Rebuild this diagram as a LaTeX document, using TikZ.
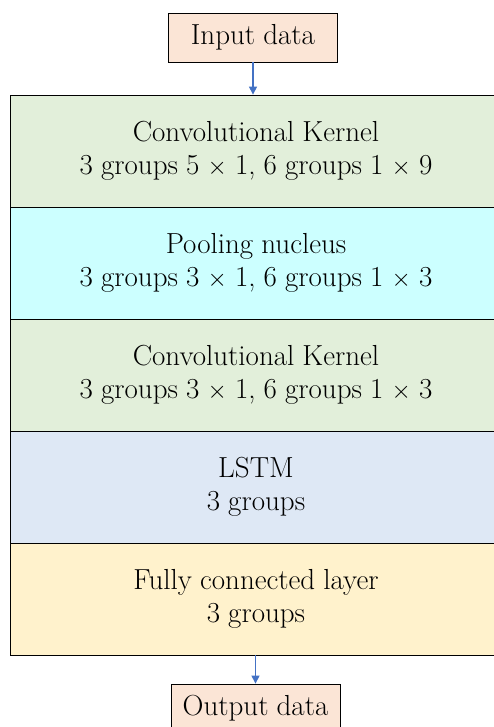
\documentclass[tikz,border=0pt]{standalone}
\usetikzlibrary{arrows.meta}
\definecolor{peach}{HTML}{FBE5D6}
\definecolor{lgreen}{HTML}{E2EFDA}
\definecolor{lcyan}{HTML}{CCFFFF}
\definecolor{lblue}{HTML}{DEE8F5}
\definecolor{lyellow}{HTML}{FFF2CC}
\definecolor{arrowblue}{HTML}{4472C4}
\newcommand{\boxfont}{\fontsize{29}{33.5}\selectfont\medmuskip=0mu\spaceskip=0.28em}
\tikzset{
  iobox/.style={draw=black, line width=0.8pt, fill=peach, minimum width=169pt, minimum height=49pt, inner sep=0pt, font=\boxfont},
  layer/.style={draw=black, line width=0.8pt, minimum width=492pt, minimum height=112pt, inner sep=0pt, align=center, font=\boxfont},
  flow/.style={draw=arrowblue, line width=1.1pt, -{Triangle[length=8pt,width=8pt]}}
}
\begin{document}
\begin{tikzpicture}[x=1pt,y=-1pt]
\useasboundingbox (0,0) rectangle (494,727);
\clip (0,0) rectangle (494,727);
\fill[white] (0,0) rectangle (494,727);
\node[iobox] (input) at (253,37.5) {Input data};
\node[layer, fill=lgreen] (conv1) at (256,151) {Convolutional Kernel\\3 groups 5 $\times$ 1, 6 groups 1 $\times$ 9};
\node[layer, fill=lcyan] (pool) at (256,263) {Pooling nucleus\\3 groups 3 $\times$ 1, 6 groups 1 $\times$ 3};
\node[layer, fill=lgreen] (conv2) at (256,375) {Convolutional Kernel\\3 groups 3 $\times$ 1, 6 groups 1 $\times$ 3};
\node[layer, fill=lblue] (lstm) at (256,487) {LSTM\\3 groups};
\node[layer, fill=lyellow] (fc) at (256,599) {Fully connected layer\\3 groups};
\node[iobox] (output) at (255.5,708.5) {Output data};
\draw[flow] (input.south) -- (input.south |- conv1.north);
\draw[flow] (fc.south -| output.north) -- (output.north);
\end{tikzpicture}
\end{document}
